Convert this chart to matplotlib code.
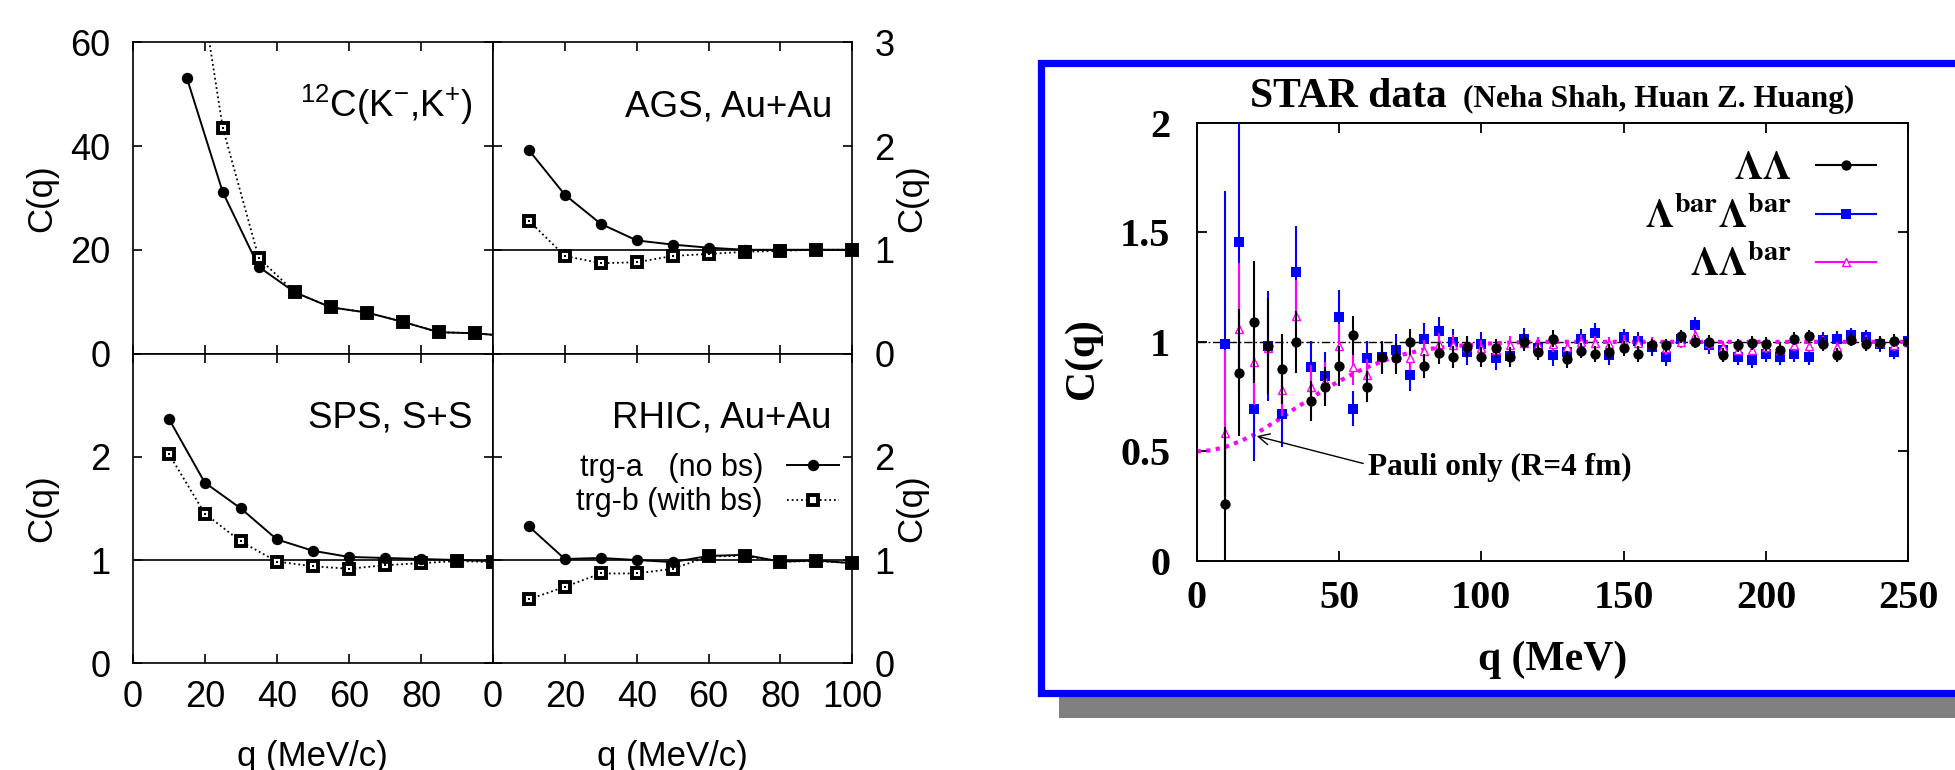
import matplotlib
matplotlib.use("Agg")
import matplotlib.pyplot as plt
import numpy as np
from matplotlib.font_manager import FontProperties
from matplotlib.lines import Line2D
from matplotlib.patches import Rectangle

W, H = 1956, 770

# ---- left figure: C(q) for trg-a (no bs) and trg-b (with bs) ----
q_kk = [15, 25, 35, 45, 55, 65, 75, 85, 95, 105]
kk_trg_a = [53.2, 31.1, 16.7, 11.8, 8.9, 7.9, 6.1, 4.1, 3.9, 3.3]
kk_trg_b = [88.0, 43.5, 18.4, 11.8, 8.9, 7.9, 6.1, 4.1, 3.9, 3.3]

q_ion = [10, 20, 30, 40, 50, 60, 70, 80, 90, 100]
ags_trg_a = [1.96, 1.53, 1.25, 1.09, 1.05, 1.02, 1.00, 1.00, 1.00, 1.00]
ags_trg_b = [1.28, 0.94, 0.87, 0.88, 0.94, 0.96, 0.98, 0.99, 1.00, 1.00]
sps_trg_a = [2.37, 1.75, 1.50, 1.20, 1.09, 1.03, 1.02, 1.01, 1.00, 0.99]
sps_trg_b = [2.03, 1.45, 1.18, 0.985, 0.94, 0.915, 0.95, 0.97, 0.99, 0.98]
rhic_trg_a = [1.325, 1.01, 1.02, 1.00, 0.98, 1.04, 1.05, 0.985, 0.995, 0.97]
rhic_trg_b = [0.62, 0.74, 0.87, 0.87, 0.915, 1.035, 1.04, 0.985, 0.99, 0.97]

# ---- right figure: STAR Lambda-Lambda correlation ----
q_star = [10, 15, 20, 25, 30, 35, 40, 45, 50, 55, 60, 65, 70, 75, 80, 85, 90,
          95, 100, 105, 110, 115, 120, 125, 130, 135, 140, 145, 150, 155, 160,
          165, 170, 175, 180, 185, 190, 195, 200, 205, 210, 215, 220, 225, 230,
          235, 240, 245, 250]
ll_c = [0.26, 0.86, 1.09, 0.98, 0.875, 1.00, 0.73, 0.795, 0.89, 1.03, 0.795,
        0.93, 0.925, 1.00, 0.89, 0.95, 0.93, 0.975, 0.93, 0.97, 0.93, 1.00,
        0.955, 1.015, 0.92, 0.96, 0.945, 0.955, 0.97, 0.945, 0.985, 0.985,
        1.025, 1.00, 1.00, 0.94, 0.985, 0.995, 0.99, 0.965, 1.015, 1.025, 0.99,
        0.94, 1.01, 0.99, 0.995, 1.005, 1.00]
ll_e = [0.35, 0.29, 0.28, 0.22, 0.16, 0.14, 0.09, 0.09, 0.09, 0.09, 0.07,
        0.07, 0.07, 0.06, 0.055, 0.05, 0.05, 0.05, 0.045, 0.045, 0.045, 0.04,
        0.04, 0.04, 0.04, 0.035, 0.035, 0.035, 0.035, 0.035, 0.03, 0.03, 0.03,
        0.03, 0.03, 0.03, 0.03, 0.03, 0.03, 0.03, 0.03, 0.03, 0.03, 0.03, 0.03,
        0.03, 0.03, 0.03, 0.03]
bb_c = [0.99, 1.455, 0.695, 0.98, 0.67, 1.32, 0.885, 0.845, 1.115, 0.695,
        0.925, 0.93, 0.965, 0.848, 1.015, 1.05, 1.00, 0.955, 0.99, 0.925,
        0.935, 1.015, 0.97, 0.94, 0.955, 1.015, 1.04, 0.94, 1.02, 1.005, 0.975,
        0.93, 1.015, 1.075, 0.985, 0.965, 0.93, 0.915, 0.945, 0.93, 0.945,
        0.93, 1.01, 1.015, 1.03, 1.02, 0.99, 0.955, 1.005]
bb_e = [0.70, 0.60, 0.24, 0.25, 0.15, 0.21, 0.12, 0.11, 0.12, 0.08, 0.08,
        0.075, 0.07, 0.07, 0.07, 0.065, 0.06, 0.06, 0.055, 0.055, 0.05, 0.05,
        0.05, 0.05, 0.045, 0.045, 0.045, 0.045, 0.04, 0.04, 0.04, 0.04, 0.04,
        0.04, 0.04, 0.035, 0.035, 0.035, 0.035, 0.035, 0.035, 0.035, 0.035,
        0.035, 0.035, 0.035, 0.035, 0.035, 0.035]
lb_c = [0.585, 1.06, 0.91, 0.97, 0.78, 1.12, 0.795, 0.82, 0.98, 0.885, 0.85,
        0.93, 0.93, 0.925, 0.96, 0.99, 0.985, 0.975, 0.97, 0.965, 0.985, 0.995,
        0.985, 0.99, 0.975, 1.00, 0.995, 0.99, 1.00, 0.995, 0.99, 0.97, 1.00,
        1.03, 0.995, 0.975, 0.965, 0.965, 0.975, 0.965, 0.985, 0.98, 1.00,
        0.975, 1.015, 1.005, 0.995, 0.985, 1.00]
lb_e = [0.38, 0.30, 0.20, 0.18, 0.12, 0.16, 0.10, 0.09, 0.10, 0.08, 0.07,
        0.06, 0.06, 0.055, 0.05, 0.05, 0.045, 0.045, 0.04, 0.04, 0.04, 0.035,
        0.035, 0.035, 0.035, 0.03, 0.03, 0.03, 0.03, 0.03, 0.03, 0.03, 0.03,
        0.03, 0.03, 0.03, 0.025, 0.025, 0.025, 0.025, 0.025, 0.025, 0.025,
        0.025, 0.025, 0.025, 0.025, 0.025, 0.025]
pauli_q = [0, 5, 10, 15, 20, 25, 30, 35, 40, 45, 50, 55, 60, 65, 70, 75, 80,
           90, 100, 110, 120, 250]
pauli_c = [0.50, 0.505, 0.52, 0.545, 0.575, 0.615, 0.655, 0.70, 0.74, 0.785,
           0.82, 0.855, 0.885, 0.91, 0.935, 0.95, 0.965, 0.98, 0.99, 0.997,
           1.0, 1.0]

plt.rcParams["font.family"] = ["Liberation Sans", "DejaVu Sans"]
plt.rcParams["mathtext.fontset"] = "custom"
plt.rcParams["mathtext.rm"] = "Liberation Sans"
plt.rcParams["mathtext.it"] = "Liberation Sans:italic"
plt.rcParams["mathtext.bf"] = "Liberation Sans:bold"


def box(x0, y0, x1, y1):
    """pixel rectangle (top-left origin) -> figure fraction [l, b, w, h]"""
    return [x0 / W, 1 - y1 / H, (x1 - x0) / W, (y1 - y0) / H]


SQ = dict(marker="s", ms=7.6, mfc="white", mec="black", mew=2.8)
DOT = dict(marker="s", ms=1.6, mfc="black", mec="black", mew=0)
CIRC = dict(marker="o", ms=8.2, mfc="black", mec="black", mew=0)


def draw_pair(ax, q, a, b, ymax):
    q, a, b = np.asarray(q), np.asarray(a), np.asarray(b)
    ax.plot(q, b, color="black", lw=1.3, ls=(0, (1, 1.6)), zorder=2)
    ax.plot(q, a, color="black", lw=1.4, zorder=3)
    inb = (q <= 100) & (b <= ymax)
    ina = (q <= 100) & (a <= ymax)
    ax.plot(q[inb], b[inb], ls="none", clip_on=False, zorder=4, **SQ)
    ax.plot(q[inb], b[inb], ls="none", clip_on=False, zorder=4, **DOT)
    ax.plot(q[ina], a[ina], ls="none", clip_on=False, zorder=5, **CIRC)


fig = plt.figure(figsize=(W / 100, H / 100), dpi=100)

panels = [
    (box(132.7, 42.3, 493, 353.5), q_kk, kk_trg_a, kk_trg_b, 60,
     r"$^{12}$C(K$^{-}$,K$^{+}$)", "left", "top"),
    (box(493, 42.3, 852.3, 353.5), q_ion, ags_trg_a, ags_trg_b, 3,
     "AGS, Au+Au", "right", "top"),
    (box(132.7, 353.5, 493, 663.3), q_ion, sps_trg_a, sps_trg_b, 3,
     "SPS, S+S", "left", "bottom"),
    (box(493, 353.5, 852.3, 663.3), q_ion, rhic_trg_a, rhic_trg_b, 3,
     "RHIC, Au+Au", "right", "bottom"),
]

axes = []
for rect, q, a, b, ymax, label, yside, row in panels:
    ax = fig.add_axes(rect)
    axes.append(ax)
    draw_pair(ax, q, a, b, ymax)
    ax.set_xlim(0, 100)
    ax.set_ylim(0, ymax)
    if ymax == 3:
        ax.axhline(1, color="black", lw=1.2, zorder=1)
    for s in ax.spines.values():
        s.set_linewidth(1.2)
    ax.tick_params(direction="in", length=6.5, width=1.2, top=True,
                   right=True, labelsize=26)
    ax.tick_params(axis="y", pad=16)
    ax.tick_params(axis="x", pad=12)

    xt = [0, 20, 40, 60, 80, 100]
    if row == "bottom":
        xl = ["0", "20", "40", "60", "80", "100" if yside == "right" else ""]
        ax.set_xticks(xt, xl)
        ax.set_xlabel("q (MeV/c)", fontsize=25, va="baseline")
        ax.xaxis.set_label_coords(0.5, (663.3 - 766) / 309.8)
    else:
        ax.set_xticks(xt, [""] * 6)

    if ymax == 60:
        ax.set_yticks([0, 20, 40, 60], ["0", "20", "40", "60"])
    elif row == "top":
        ax.set_yticks([0, 1, 2, 3], ["0", "1", "2", "3"])
    else:
        ax.set_yticks([0, 1, 2, 3], ["0", "1", "2", ""])

    if yside == "right":
        ax.tick_params(axis="y", labelleft=False, labelright=True)
        ax.yaxis.set_label_position("right")
        ax.set_ylabel("C(q)", fontsize=25, va="center")
        ax.yaxis.set_label_coords(1.165, 0.5)
    else:
        ax.set_ylabel("C(q)", fontsize=25, va="center")
        ax.yaxis.set_label_coords(-0.253, 0.5)

    ax.text(0.943, 0.761, label, transform=ax.transAxes, ha="right",
            va="baseline", fontsize=26.5)

legend_handles = [
    Line2D([], [], color="black", lw=1.4, **CIRC),
    Line2D([], [], color="black", lw=1.3, ls=(0, (1, 1.6)), **SQ),
]
axes[3].legend(legend_handles, ["trg-a   (no bs)", "trg-b (with bs)"],
               loc="upper right", bbox_to_anchor=(0.964, 0.68),
               frameon=False, markerfirst=False, fontsize=22,
               handlelength=1.7, handletextpad=0.8, labelspacing=0.15,
               borderpad=0, borderaxespad=0)

# ---- STAR panel with blue frame and grey shadow ----
fig.add_artist(Rectangle((1059.3 / W, 1 - 718.3 / H), (2000 - 1059.3) / W,
                         (718.3 - 90) / H, transform=fig.transFigure,
                         facecolor="#808080", edgecolor="none", zorder=-2))
fig.add_artist(Rectangle((1040.8 / W, 1 - 692.7 / H), (2000 - 1040.8) / W,
                         (692.7 - 63) / H, transform=fig.transFigure,
                         facecolor="white", edgecolor="#0000FF", lw=5.2,
                         zorder=-1))

serif = "Liberation Serif"
star = fig.add_axes(box(1196.7, 122.7, 1908.3, 561))
star.axhline(1, color="black", lw=1.0, ls=(0, (6, 2, 1.2, 2)), zorder=1)
star.plot(pauli_q, pauli_c, color="#FF00FF", lw=3.0, ls=(0, (1, 1.3)),
          zorder=2.5)
star.errorbar(q_star, bb_c, yerr=bb_e, fmt="s", color="#0000FF", ms=7.8,
              mew=0, elinewidth=1.5, capsize=0, zorder=3)
star.errorbar(q_star, lb_c, yerr=lb_e, fmt="^", color="#FF00FF", ms=6,
              mfc="white", mec="#FF00FF", mew=1.0, elinewidth=1.5,
              capsize=0, zorder=4)
star.errorbar(q_star, ll_c, yerr=ll_e, fmt="o", color="black", ms=7.4,
              mew=0, elinewidth=1.5, capsize=0, zorder=5)

star.set_xlim(0, 250)
star.set_ylim(0, 2)
for s in star.spines.values():
    s.set_linewidth(1.4)
star.tick_params(direction="in", length=7, width=1.3, top=True, right=True)
star.tick_params(axis="y", pad=19)
star.tick_params(axis="x", pad=14)
tick_font = dict(fontsize=29, fontweight="bold", family=serif)
star.set_xticks([0, 50, 100, 150, 200, 250],
                ["0", "50", "100", "150", "200", "250"], **tick_font)
star.set_yticks([0, 0.5, 1, 1.5, 2], ["0", "0.5", "1", "1.5", "2"],
                **tick_font)
star.set_xlabel("q (MeV)", fontsize=30, fontweight="bold", family=serif,
                va="baseline")
star.xaxis.set_label_coords(0.5, (561 - 670) / 438.3)
star.set_ylabel("C(q)", fontsize=30, fontweight="bold", family=serif,
                va="center")
star.yaxis.set_label_coords(-0.160, 0.463)

star.text(0.0749, 1.035, "STAR data", transform=star.transAxes, ha="left",
          va="baseline", fontsize=30, fontweight="bold", family=serif)
star.text(0.3742, 1.035, "(Neha Shah, Huan Z. Huang)",
          transform=star.transAxes, ha="left", va="baseline", fontsize=22.5,
          fontweight="bold", family=serif)

star.annotate("", xy=(21.1, 0.57), xytext=(58.5, 0.445),
              arrowprops=dict(arrowstyle="->", color="black", lw=1.0,
                              shrinkA=0, shrinkB=0, mutation_scale=20))
star.text(60.2, 0.392, "Pauli only (R=4 fm)", ha="left", va="baseline",
          fontsize=22.5, fontweight="bold", family=serif)

star_handles = [
    Line2D([], [], color="black", lw=1.5, marker="o", ms=7.4, mew=0),
    Line2D([], [], color="#0000FF", lw=1.5, marker="s", ms=7.8, mew=0),
    Line2D([], [], color="#FF00FF", lw=1.5, marker="^", ms=6, mfc="white",
           mew=1.0),
]
star_labels = [r"$\mathbf{\Lambda\Lambda}$",
               r"$\mathbf{\Lambda^{bar}\Lambda^{bar}}$",
               r"$\mathbf{\Lambda\Lambda^{bar}}$"]
star.legend(star_handles, star_labels, loc="upper right",
            bbox_to_anchor=(0.955, 0.935), frameon=False, markerfirst=False,
            prop=FontProperties(family=serif, weight="bold", size=29,
                                math_fontfamily="stix"),
            handlelength=1.5, handletextpad=0.6, labelspacing=0.25,
            borderpad=0, borderaxespad=0)

fig.savefig("out.png", dpi=100)
